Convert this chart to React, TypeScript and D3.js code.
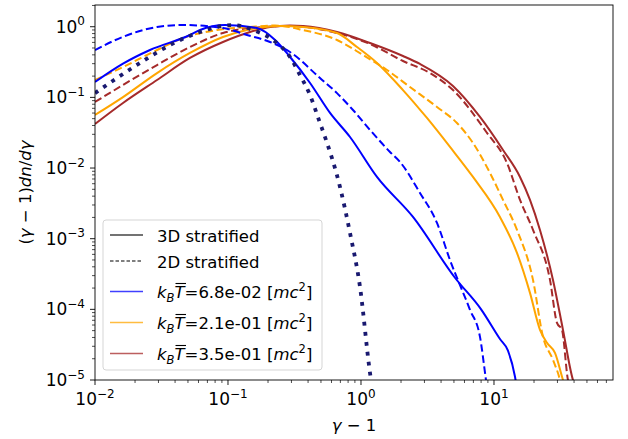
import React from "react";
import * as d3 from "d3";

// ---- data ----
const xTickExps = [-2, -1, 0, 1];
const yTickExps = [-5, -4, -3, -2, -1, 0];

const blueSolidX = [0.01, 0.01624, 0.0259, 0.0518, 0.0616, 0.0949, 0.165, 0.226, 0.293, 0.414, 0.585, 0.827, 1.319, 2.46, 5.09, 8.0, 11.09, 12.74, 14.39, 14.6];
const blueSolidY = [0.165, 0.3, 0.468, 0.763, 0.898, 1.057, 0.958, 0.649, 0.373, 0.16, 0.0602, 0.0275, 0.00748, 0.00203, 0.00028, 0.0001, 3.8e-5, 2.6e-5, 1.11e-5, 9.5e-6];

const blueDashX = [0.01, 0.01624, 0.02926, 0.04588, 0.0917, 0.139, 0.207, 0.2926, 0.4916, 0.66, 0.8706, 1.169, 1.652, 1.965, 2.777, 3.728, 4.669, 6.6, 7.848, 8.705, 8.85];
const blueDashY = [0.468, 0.72, 0.99, 1.057, 0.958, 0.763, 0.608, 0.439, 0.188, 0.115, 0.0663, 0.0346, 0.0169, 0.0122, 0.00444, 0.00167, 0.000499, 9.84e-5, 4.08e-5, 1.0e-5, 8e-6];

const dottedX = [0.01, 0.01463, 0.02296, 0.03664, 0.06158, 0.1091, 0.1542, 0.218, 0.2926, 0.3479, 0.4135, 0.4916, 0.5362, 0.6952, 0.8266, 0.9829, 1.169, 1.2];
const dottedY = [0.115, 0.188, 0.327, 0.551, 0.841, 1.057, 0.898, 0.649, 0.373, 0.207, 0.108, 0.0434, 0.0275, 0.0054, 0.00121, 0.000208, 1.26e-5, 9e-6];

const orangeSolidX = [0.01, 0.01624, 0.02926, 0.05178, 0.0917, 0.139, 0.246, 0.3664, 0.66, 0.933, 1.319, 2.069, 3.134, 4.669, 6.952, 11.09, 14.89, 18.65, 22.17, 25.03, 28.75, 33.02, 33.6];
const orangeSolidY = [0.0564, 0.101, 0.221, 0.425, 0.715, 0.898, 1.023, 0.99, 0.814, 0.516, 0.307, 0.127, 0.0511, 0.0199, 0.00748, 0.00203, 0.00063, 0.000171, 5.13e-5, 3.36e-5, 2.42e-5, 1.0e-5, 9e-6];

const orangeDashX = [0.01, 0.01624, 0.02926, 0.04588, 0.08266, 0.1464, 0.2256, 0.3664, 0.66, 1.035, 1.569, 2.336, 3.728, 5.27, 6.952, 9.33, 11.69, 14.89, 19.65, 23.36, 27.77, 31.34, 32];
const orangeDashY = [0.176, 0.269, 0.468, 0.692, 0.898, 0.99, 1.04, 0.898, 0.649, 0.398, 0.244, 0.14, 0.0731, 0.0434, 0.0226, 0.00852, 0.00354, 0.00133, 0.000261, 4.08e-5, 1.93e-5, 1.0e-5, 8.5e-6];

const brownSolidX = [0.01, 0.01624, 0.02926, 0.05178, 0.0917, 0.1464, 0.207, 0.2926, 0.3664, 0.66, 1.169, 2.069, 2.777, 4.916, 7.848, 11.69, 15.69, 18.65, 22.17, 27.77, 33.02, 39.26, 40];
const brownSolidY = [0.042, 0.0833, 0.176, 0.361, 0.608, 0.841, 0.99, 1.04, 1.023, 0.841, 0.588, 0.385, 0.297, 0.145, 0.0528, 0.018, 0.00748, 0.00354, 0.00133, 0.000261, 5.13e-5, 1.0e-5, 9e-6];

const brownDashX = [0.01, 0.01624, 0.02926, 0.05178, 0.0917, 0.1464, 0.2926, 0.66, 1.169, 2.069, 3.302, 4.916, 8.858, 12.52, 15.69, 19.65, 26.37, 29.77, 32.45, 36.01, 36.5];
const brownDashY = [0.0861, 0.15, 0.287, 0.516, 0.814, 0.958, 1.023, 0.814, 0.569, 0.327, 0.221, 0.127, 0.0314, 0.0118, 0.00354, 0.00133, 0.000261, 6.44e-5, 5.13e-5, 1.0e-5, 9e-6];

const legendValues = ["6.8e-02", "2.1e-01", "3.5e-01"];

// ---- layout ----
const W = 628, H = 439;
const L = 95, R = 613, T = 5, B = 380;
const FONT = "DejaVu Sans";

const x = d3.scaleLog().domain([0.01, 78.5]).range([L, R]);
const y = d3.scaleLog().domain([1e-5, 2.03]).range([B, T]);

const line = d3
  .line<[number, number]>()
  .x((d) => x(d[0]))
  .y((d) => y(d[1]))
  .curve(d3.curveMonotoneX);

const zip = (a: number[], b: number[]) => a.map((v, i) => [v, b[i]] as [number, number]);

const BLUE = "#0000ff";
const ORANGE = "#ffa500";
const BROWN = "#a52a2a";
const NAVY = "#191970";

const series = [
  { xs: brownSolidX, ys: brownSolidY, color: BROWN, dash: undefined, w: 2 },
  { xs: brownDashX, ys: brownDashY, color: BROWN, dash: "7.5 3.5", w: 2 },
  { xs: orangeSolidX, ys: orangeSolidY, color: ORANGE, dash: undefined, w: 2 },
  { xs: orangeDashX, ys: orangeDashY, color: ORANGE, dash: "7.5 3.5", w: 2 },
  { xs: blueDashX, ys: blueDashY, color: BLUE, dash: "7.5 3.5", w: 2 },
  { xs: blueSolidX, ys: blueSolidY, color: BLUE, dash: undefined, w: 2 },
  { xs: dottedX, ys: dottedY, color: NAVY, dash: "3.8 6.2", w: 3.8 },
];

function minorTicks(scale: d3.ScaleLogarithmic<number, number>) {
  const [a, b] = scale.domain();
  const out: number[] = [];
  for (let e = Math.floor(Math.log10(a)); e <= Math.ceil(Math.log10(b)); e++) {
    for (let m = 2; m <= 9; m++) {
      const v = m * Math.pow(10, e);
      if (v >= a && v <= b) out.push(v);
    }
  }
  return out;
}

function Pow10({ e, px, py, anchor }: { e: number; px: number; py: number; anchor: "middle" | "end" }) {
  const exp = e < 0 ? "\u2212" + Math.abs(e) : String(e);
  return (
    <text x={px} y={py} textAnchor={anchor} fontFamily={FONT} fontSize={17} fill="#000">
      10
      <tspan dy={-7.5} fontSize={12}>
        {exp}
      </tspan>
    </text>
  );
}

function KT({ px, py, val }: { px: number; py: number; val: string }) {
  return (
    <g>
      <text x={px} y={py} fontFamily={FONT} fontSize={16.5} fill="#000">
        <tspan fontStyle="italic">k</tspan>
        <tspan fontStyle="italic" fontSize={11.5} dy={3.5}>
          B
        </tspan>
        <tspan fontStyle="italic" dy={-3.5}>
          T
        </tspan>
        <tspan>={val} [</tspan>
        <tspan fontStyle="italic">mc</tspan>
        <tspan fontSize={11.5} dy={-7}>
          2
        </tspan>
        <tspan dy={7}>]</tspan>
      </text>
      <line x1={px + 18.5} x2={px + 29} y1={py - 14.5} y2={py - 14.5} stroke="#000" strokeWidth={1.1} />
    </g>
  );
}

export default function App() {
  const xMinor = minorTicks(x);
  const yMinor = minorTicks(y);
  return (
    <svg width={W} height={H} style={{ display: "block", position: "absolute", left: 0, top: 0 }}>
      <rect x={0} y={0} width={W} height={H} fill="#fff" />
      <defs>
        <clipPath id="plotclip">
          <rect x={L} y={T} width={R - L} height={B - T} />
        </clipPath>
      </defs>

      <g clipPath="url(#plotclip)">
        {series.map((s, i) => (
          <path
            key={i}
            d={line(zip(s.xs, s.ys)) || ""}
            fill="none"
            stroke={s.color}
            strokeWidth={s.w}
            strokeDasharray={s.dash}
          />
        ))}
      </g>

      {/* frame */}
      <rect x={L} y={T} width={R - L} height={B - T} fill="none" stroke="#000" strokeWidth={0.9} />

      {/* x ticks */}
      {xTickExps.map((e) => {
        const px = x(Math.pow(10, e));
        return (
          <g key={"xt" + e}>
            <line x1={px} x2={px} y1={B} y2={B + 5} stroke="#000" strokeWidth={0.9} />
            <Pow10 e={e} px={px} py={405} anchor="middle" />
          </g>
        );
      })}
      {xMinor.map((v, i) => (
        <line key={"xm" + i} x1={x(v)} x2={x(v)} y1={B} y2={B + 3} stroke="#000" strokeWidth={0.7} />
      ))}

      {/* y ticks */}
      {yTickExps.map((e) => {
        const py = y(Math.pow(10, e));
        return (
          <g key={"yt" + e}>
            <line x1={L - 5} x2={L} y1={py} y2={py} stroke="#000" strokeWidth={0.9} />
            <Pow10 e={e} px={85} py={py + 6} anchor="end" />
          </g>
        );
      })}
      {yMinor.map((v, i) => (
        <line key={"ym" + i} x1={L - 3} x2={L} y1={y(v)} y2={y(v)} stroke="#000" strokeWidth={0.7} />
      ))}

      {/* axis labels */}
      <text x={(L + R) / 2} y={431} textAnchor="middle" fontFamily={FONT} fontSize={16.5}>
        <tspan fontStyle="italic">γ</tspan>
        <tspan> − 1</tspan>
      </text>
      <text
        transform={`translate(31,${(T + B) / 2}) rotate(-90)`}
        textAnchor="middle"
        fontFamily={FONT}
        fontSize={16.5}
      >
        <tspan>(</tspan>
        <tspan fontStyle="italic">γ</tspan>
        <tspan> − 1)</tspan>
        <tspan fontStyle="italic">dn</tspan>
        <tspan>/</tspan>
        <tspan fontStyle="italic">dγ</tspan>
      </text>

      {/* legend */}
      <rect x={103} y={220} width={219} height={150} rx={3} fill="#fff" fillOpacity={0.8} stroke="#d5d5d5" strokeWidth={1} />
      <line x1={110} x2={143} y1={235} y2={235} stroke="#444" strokeWidth={1.5} />
      <text x={157} y={241.5} fontFamily={FONT} fontSize={16.5}>3D stratified</text>
      <line x1={110} x2={143} y1={261} y2={261} stroke="#000" strokeWidth={1.2} strokeDasharray="3.5 2" />
      <text x={157} y={267.5} fontFamily={FONT} fontSize={16.5}>2D stratified</text>
      {[BLUE, ORANGE, BROWN].map((c, i) => {
        const cy = 291.5 + i * 31;
        return (
          <g key={"lg" + i}>
            <line x1={110} x2={143} y1={cy} y2={cy} stroke={c} strokeWidth={1.3} strokeOpacity={0.75} />
            <KT px={157} py={cy + 6.5} val={legendValues[i]} />
          </g>
        );
      })}
    </svg>
  );
}
